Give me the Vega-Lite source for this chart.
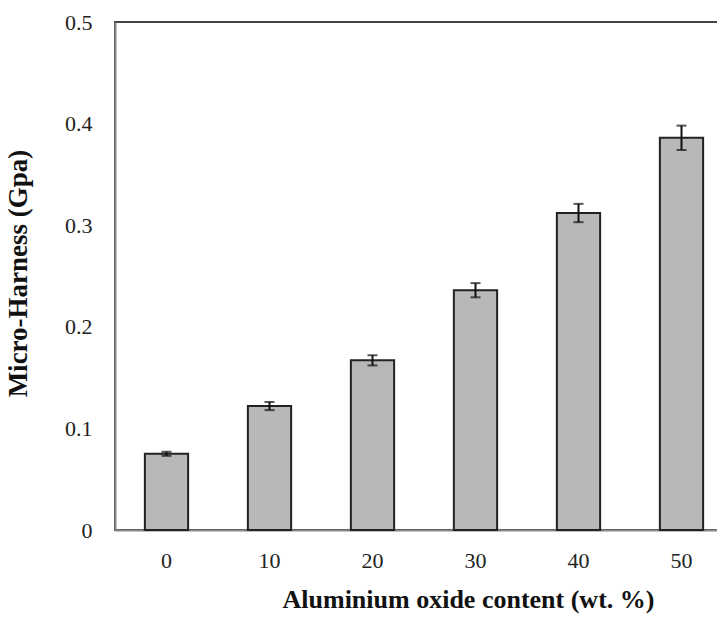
{
  "$schema": "https://vega.github.io/schema/vega-lite/v6.json",
  "autosize": {"type": "none"},
  "padding": {"left": 115, "top": 22, "right": 0, "bottom": 91},
  "width": 618,
  "height": 508,
  "background": "white",
  "config": {
    "font": "Liberation Serif",
    "view": {"stroke": "#444444", "strokeWidth": 2},
    "axis": {"labelFont": "Liberation Serif", "titleFont": "Liberation Serif", "labelColor": "#222222", "titleColor": "#111111"}
  },
  "data": {
    "values": [
      {"content": "0", "hardness": 0.075, "err": 0.002},
      {"content": "10", "hardness": 0.122, "err": 0.004},
      {"content": "20", "hardness": 0.167, "err": 0.005},
      {"content": "30", "hardness": 0.236, "err": 0.007},
      {"content": "40", "hardness": 0.312, "err": 0.009},
      {"content": "50", "hardness": 0.386, "err": 0.012}
    ]
  },
  "transform": [
    {"calculate": "datum.hardness - datum.err", "as": "lo"},
    {"calculate": "datum.hardness + datum.err", "as": "hi"}
  ],
  "encoding": {
    "x": {
      "field": "content", "type": "ordinal", "sort": null,
      "scale": {"paddingInner": 0.58, "paddingOuter": 0.29},
      "axis": {
        "title": "Aluminium oxide content (wt. %)",
        "titleFontSize": 26, "titleFontWeight": "bold",
        "titleX": 353, "titleY": 56, "titleBaseline": "top",
        "labelAngle": 0, "labelFontSize": 22, "labelPadding": 20,
        "ticks": false, "domainColor": "#888888", "domainWidth": 2
      }
    }
  },
  "layer": [
    {
      "mark": {"type": "bar", "fill": "#b8b8b8", "stroke": "#222222", "strokeWidth": 2},
      "encoding": {
        "y": {
          "field": "hardness", "type": "quantitative",
          "scale": {"domain": [0, 0.5], "nice": false},
          "axis": {
            "title": "Micro-Harness (Gpa)",
            "titleFontSize": 27, "titleFontWeight": "bold",
            "titleX": -83, "titleY": 251, "titleBaseline": "bottom",
            "values": [0, 0.1, 0.2, 0.3, 0.4, 0.5],
            "labelExpr": "datum.value == 0 ? '0' : format(datum.value, '.1f')",
            "labelFontSize": 22, "labelPadding": 23,
            "grid": false, "ticks": false,
            "domainColor": "#888888", "domainWidth": 2
          }
        }
      }
    },
    {
      "mark": {"type": "rule", "color": "#111111", "strokeWidth": 2},
      "encoding": {
        "y": {"field": "lo", "type": "quantitative"},
        "y2": {"field": "hi"}
      }
    },
    {
      "mark": {"type": "tick", "color": "#111111", "thickness": 2, "size": 10},
      "encoding": {"y": {"field": "lo", "type": "quantitative"}}
    },
    {
      "mark": {"type": "tick", "color": "#111111", "thickness": 2, "size": 10},
      "encoding": {"y": {"field": "hi", "type": "quantitative"}}
    }
  ]
}
